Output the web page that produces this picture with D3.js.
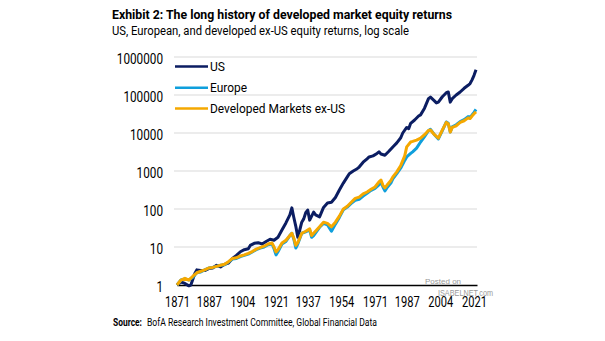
<!DOCTYPE html>
<html>
<head>
<meta charset="utf-8">
<script src="https://cdn.jsdelivr.net/npm/d3@7"></script>
<style>
	body { margin: 0; background: #fff; }
	text { font-family: 'Roboto', 'Liberation Sans', sans-serif; }
</style>
</head>
<body>
<svg id="chart" width="605" height="341"></svg>
<script>

// values, [year, index]
var usData = [[1871,1.0],[1873,1.2],[1875,1.1],[1877,0.95],[1878,1.0],[1880,2.0],[1881,2.5],[1883,2.4],[1885,2.4],[1887,2.7],[1889,2.8],[1891,3.3],[1893,3.0],[1895,3.5],[1897,3.8],[1899,5.0],[1901,6.0],[1903,7.5],[1905,8.5],[1907,9.0],[1908,11],[1910,12.5],[1912,13],[1914,12],[1916,14],[1918,16],[1920,15],[1922,18],[1924,28],[1926,43],[1928,70],[1929,107],[1930,60],[1931,35],[1932,18],[1933,28],[1934,45],[1935,55],[1936,80],[1937,94],[1938,51],[1939,65],[1940,83],[1941,70],[1943,62],[1945,110],[1947,144],[1949,150],[1951,200],[1953,316],[1955,480],[1957,700],[1958,850],[1960,1000],[1962,1150],[1963,1270],[1965,1700],[1967,2100],[1968,2340],[1970,2500],[1972,2900],[1973,3200],[1974,2800],[1976,2600],[1978,3300],[1980,4300],[1982,5500],[1984,7500],[1985,10000],[1987,14000],[1988,13000],[1989,18000],[1991,22000],[1993,28000],[1994,30000],[1996,45000],[1998,80000],[1999,88000],[2001,70000],[2002,62000],[2003,65000],[2005,90000],[2007,115000],[2008,120000],[2009,65000],[2010,80000],[2012,100000],[2014,120000],[2016,150000],[2018,180000],[2019,200000],[2020,250000],[2021,330000],[2022,460000]];

var europeData = [[1871,1.0],[1873,1.35],[1875,1.45],[1877,1.35],[1879,1.6],[1881,2.1],[1883,2.2],[1885,2.5],[1887,2.8],[1889,2.9],[1891,3.1],[1893,3.3],[1895,3.4],[1897,4.0],[1899,4.8],[1901,5.0],[1903,5.6],[1905,6.0],[1907,6.5],[1909,7.4],[1911,8.5],[1913,9.4],[1915,10],[1917,11.5],[1919,12],[1920,9],[1921,6.2],[1922,7.5],[1924,12],[1926,14],[1928,20],[1929,23],[1930,16],[1931,9.4],[1932,12],[1934,23],[1936,25],[1938,28],[1939,18],[1940,20],[1943,33],[1945,42],[1947,38],[1949,26],[1951,40],[1953,60],[1955,95],[1957,112],[1959,140],[1961,170],[1963,180],[1965,220],[1967,260],[1969,310],[1971,350],[1973,430],[1974,500],[1975,380],[1976,300],[1977,360],[1979,480],[1980,620],[1982,850],[1984,1200],[1986,1900],[1987,2340],[1989,2900],[1990,3200],[1992,4000],[1994,5800],[1996,8000],[1998,11500],[1999,12500],[2001,9000],[2003,7000],[2005,11500],[2007,19500],[2008,18000],[2009,10600],[2010,14500],[2012,16500],[2014,20000],[2016,22500],[2018,27000],[2019,26000],[2020,30000],[2021,35000],[2022,42000]];

var dmData = [[1871,1.0],[1873,1.35],[1875,1.5],[1877,1.35],[1879,1.7],[1881,2.1],[1883,2.3],[1885,2.5],[1887,2.8],[1889,2.9],[1891,3.1],[1893,3.3],[1895,3.5],[1897,4.1],[1899,5.0],[1901,5.2],[1903,5.8],[1905,6.2],[1907,6.8],[1909,7.6],[1911,8.8],[1913,9.6],[1915,10.5],[1917,12],[1919,12.7],[1920,10],[1921,7.4],[1922,8.5],[1924,12.7],[1926,15],[1928,20],[1929,23],[1930,17],[1931,11],[1932,13],[1934,23],[1936,26],[1938,30],[1939,20],[1940,23],[1943,34],[1945,45],[1947,42],[1949,34],[1951,45],[1953,65],[1955,100],[1957,118],[1959,150],[1961,190],[1963,205],[1965,250],[1967,280],[1969,330],[1971,380],[1973,520],[1974,580],[1975,420],[1976,360],[1977,420],[1979,560],[1980,700],[1982,950],[1984,1400],[1986,2500],[1987,4300],[1989,5800],[1990,6000],[1992,6500],[1994,7300],[1996,9000],[1998,11700],[1999,12000],[2001,9000],[2003,7300],[2005,12000],[2007,19000],[2008,17500],[2009,10600],[2010,14000],[2012,15500],[2014,19000],[2016,21000],[2018,25000],[2019,24000],[2020,28000],[2021,32000],[2022,36000]];

var seriesNames = ['US', 'Europe', 'Developed Markets ex-US'];
var seriesColors = ['#0b1d62', '#0f9fdc', '#f5a800'];
var xTicks = [1871, 1887, 1904, 1921, 1937, 1954, 1971, 1987, 2004, 2021];
var yTicks = [1, 10, 100, 1000, 10000, 100000, 1000000];

var svg = d3.select('#chart');
var g = svg.append('g');

var plotLeft = 177, plotRight = 477, plotTop = 57, plotBottom = 285;

var x = d3.scaleLinear().domain([1871, 2022.5]).range([plotLeft, plotRight]);
var y = d3.scaleLog().domain([1, 1000000]).range([plotBottom, plotTop]);

// title block
g.append('text')
	.attr('x', 112)
	.attr('y', 19)
	.attr('textLength', 340)
	.attr('lengthAdjust', 'spacingAndGlyphs')
	.text('Exhibit 2: The long history of developed market equity returns')
	.style('font-weight', 'bold')
	.style('font-size', '13.5px')
	.style('fill', '#000');

g.append('text')
	.attr('x', 112)
	.attr('y', 35)
	.attr('textLength', 297)
	.attr('lengthAdjust', 'spacingAndGlyphs')
	.text('US, European, and developed ex-US equity returns, log scale')
	.style('font-size', '12.5px')
	.style('fill', '#000');

// gridlines
g.selectAll('.grid')
	.data(yTicks.slice(1))
	.enter().append('line')
	.attr('class', 'grid')
	.attr('x1', plotLeft - 3)
	.attr('x2', plotRight)
	.attr('y1', function(d) { return y(d); })
	.attr('y2', function(d) { return y(d); })
	.attr('stroke', '#d9d9d9')
	.attr('stroke-width', 1);

// y labels
g.selectAll('.ylab')
	.data(yTicks)
	.enter().append('text')
	.attr('class', 'ylab')
	.attr('x', 163)
	.attr('y', function(d) { return y(d) + 6.5; })
	.attr('text-anchor', 'end')
	.attr('textLength', function(d) { return String(d).length * 6.6; })
	.attr('lengthAdjust', 'spacingAndGlyphs')
	.text(function(d) { return d; })
	.style('font-size', '14px')
	.style('fill', '#000');

// x axis
var xAxis = d3.axisBottom(x)
	.tickValues(xTicks)
	.tickFormat(d3.format('d'))
	.tickSize(0)
	.tickPadding(12);

var ax = g.append('g')
	.attr('transform', 'translate(0,' + plotBottom + ')')
	.call(xAxis);
ax.select('.domain').attr('stroke', '#000').attr('stroke-width', 1.5);
ax.selectAll('text')
	.attr('textLength', 25)
	.attr('lengthAdjust', 'spacingAndGlyphs')
	.style('font-family', "'Roboto', sans-serif")
	.style('font-size', '14px')
	.style('fill', '#000');

// lines
var line = d3.line()
	.x(function(d) { return x(d[0]); })
	.y(function(d) { return y(d[1]); });

[usData, europeData, dmData].forEach(function(s, i) {
	g.append('path')
		.datum(s)
		.attr('d', line)
		.attr('fill', 'none')
		.attr('stroke', seriesColors[i])
		.attr('stroke-width', 3)
		.attr('stroke-linejoin', 'round');
});

// legend
var legendY = [66.5, 87.7, 108.5];
var legendW = [15, 37, 135];
seriesNames.forEach(function(n, i) {
	g.append('line')
		.attr('x1', 175)
		.attr('x2', 208)
		.attr('y1', legendY[i])
		.attr('y2', legendY[i])
		.attr('stroke', seriesColors[i])
		.attr('stroke-width', 2.5);
	g.append('text')
		.attr('x', 210)
		.attr('y', legendY[i] + 4.5)
		.attr('textLength', legendW[i])
		.attr('lengthAdjust', 'spacingAndGlyphs')
		.text(n)
		.style('font-size', '12.5px')
		.style('fill', '#000');
});

// watermark
g.append('text')
	.attr('x', 425)
	.attr('y', 284)
	.text('Posted on')
	.style('font-family', 'Arial, sans-serif')
	.style('font-size', '8px')
	.style('fill', '#999');

g.append('text')
	.attr('x', 438)
	.attr('y', 296)
	.attr('textLength', 55)
	.attr('lengthAdjust', 'spacingAndGlyphs')
	.text('ISABELNET.com')
	.style('font-family', 'Arial, sans-serif')
	.style('font-size', '9.5px')
	.style('fill', '#999');

// source
g.append('text')
	.attr('x', 113)
	.attr('y', 326)
	.attr('textLength', 29)
	.attr('lengthAdjust', 'spacingAndGlyphs')
	.text('Source:')
	.style('font-weight', 'bold')
	.style('font-size', '10px')
	.style('fill', '#000');

g.append('text')
	.attr('x', 147)
	.attr('y', 326)
	.attr('textLength', 230)
	.attr('lengthAdjust', 'spacingAndGlyphs')
	.text('BofA Research Investment Committee, Global Financial Data')
	.style('font-size', '10px')
	.style('fill', '#000');

</script>
</body>
</html>
